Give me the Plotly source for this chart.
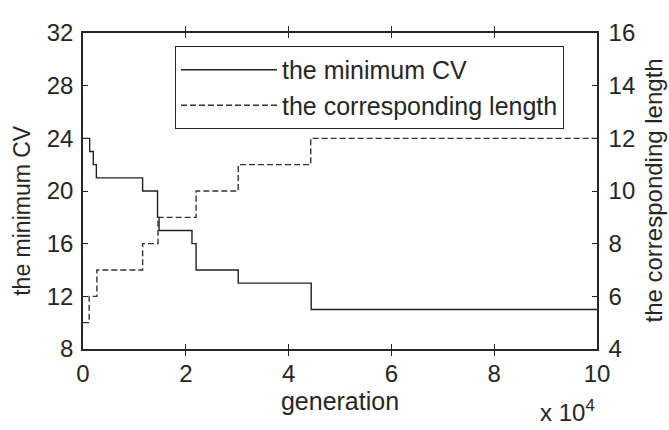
import plotly.graph_objects as go

# Step data (generation in absolute units)
gen_cv = [0, 1300, 2000, 2600, 11600, 14500, 14800, 21200, 22000, 30200, 44400, 100000]
min_cv = [24, 23, 22, 21, 20, 18, 17, 16, 14, 13, 11, 11]

gen_len = [0, 1200, 2700, 11600, 14600, 22000, 30200, 44300, 100000]
corr_len = [5, 6, 7, 8, 9, 10, 11, 12, 12]

x_tickvals = [0, 20000, 40000, 60000, 80000, 100000]
x_ticktext = ["0", "2", "4", "6", "8", "10"]
y1_ticks = [8, 12, 16, 20, 24, 28, 32]
y2_ticks = [4, 6, 8, 10, 12, 14, 16]

FONT = "Liberation Sans, Arial, sans-serif"
TXT = "#262626"
AX = "#262626"

fig = go.Figure()
fig.add_trace(go.Scatter(
    x=gen_cv, y=min_cv, mode="lines", line_shape="hv",
    name="the minimum CV", line=dict(color="#222222", width=1.4),
))
fig.add_trace(go.Scatter(
    x=gen_len, y=corr_len, mode="lines", line_shape="hv", yaxis="y2",
    name="the corresponding length",
    line=dict(color="#333333", width=1.4, dash="6px,3px"),
))

fig.update_layout(
    width=669, height=430,
    margin=dict(l=83, r=72, t=33, b=81),
    paper_bgcolor="white", plot_bgcolor="white",
    font=dict(family=FONT, color=TXT, size=24),
    showlegend=True,
    legend=dict(
        x=0.179, y=0.959, xanchor="left", yanchor="top",
        bgcolor="white", bordercolor=AX, borderwidth=1,
        font=dict(size=25, family=FONT, color=TXT),
        itemwidth=96, tracegroupgap=0,
    ),
    xaxis=dict(
        range=[0, 100000], tickvals=x_tickvals, ticktext=x_ticktext,
        showgrid=False, zeroline=False,
        showline=True, linecolor=AX, linewidth=1.5, mirror="allticks",
        ticks="inside", ticklen=5, tickcolor=AX, tickwidth=1.2,
        tickfont=dict(size=24), automargin=False, ticklabelstandoff=2,
        title=dict(text="generation", font=dict(size=25), standoff=6),
    ),
    yaxis=dict(
        range=[8, 32], tickvals=y1_ticks,
        showgrid=False, zeroline=False,
        showline=True, linecolor=AX, linewidth=1.5, mirror=True,
        ticks="inside", ticklen=5, tickcolor=AX, tickwidth=1.2,
        tickfont=dict(size=24), automargin=False, ticklabelstandoff=3,
    ),
    yaxis2=dict(
        range=[4, 16], tickvals=y2_ticks, overlaying="y", side="right",
        showgrid=False, zeroline=False,
        showline=True, linecolor=AX, linewidth=1.5,
        ticks="inside", ticklen=5, tickcolor=AX, tickwidth=1.2,
        tickfont=dict(size=24), automargin=False, ticklabelstandoff=5,
    ),
)

fig.add_annotation(
    text="the minimum CV", xref="paper", yref="paper",
    x=-0.119, y=0.44, xanchor="center", yanchor="middle", textangle=-90,
    showarrow=False, font=dict(size=23, family=FONT, color=TXT),
)
fig.add_annotation(
    text="the corresponding length", xref="paper", yref="paper",
    x=1.108, y=0.5, xanchor="center", yanchor="middle", textangle=-90,
    showarrow=False, font=dict(size=24, family=FONT, color=TXT),
)
fig.add_annotation(
    text="x 10<sup>4</sup>", xref="paper", yref="paper",
    x=1.0, y=-0.25, xanchor="right", yanchor="bottom", showarrow=False,
    font=dict(size=24, family=FONT, color=TXT),
)

fig.write_html("out.html")
